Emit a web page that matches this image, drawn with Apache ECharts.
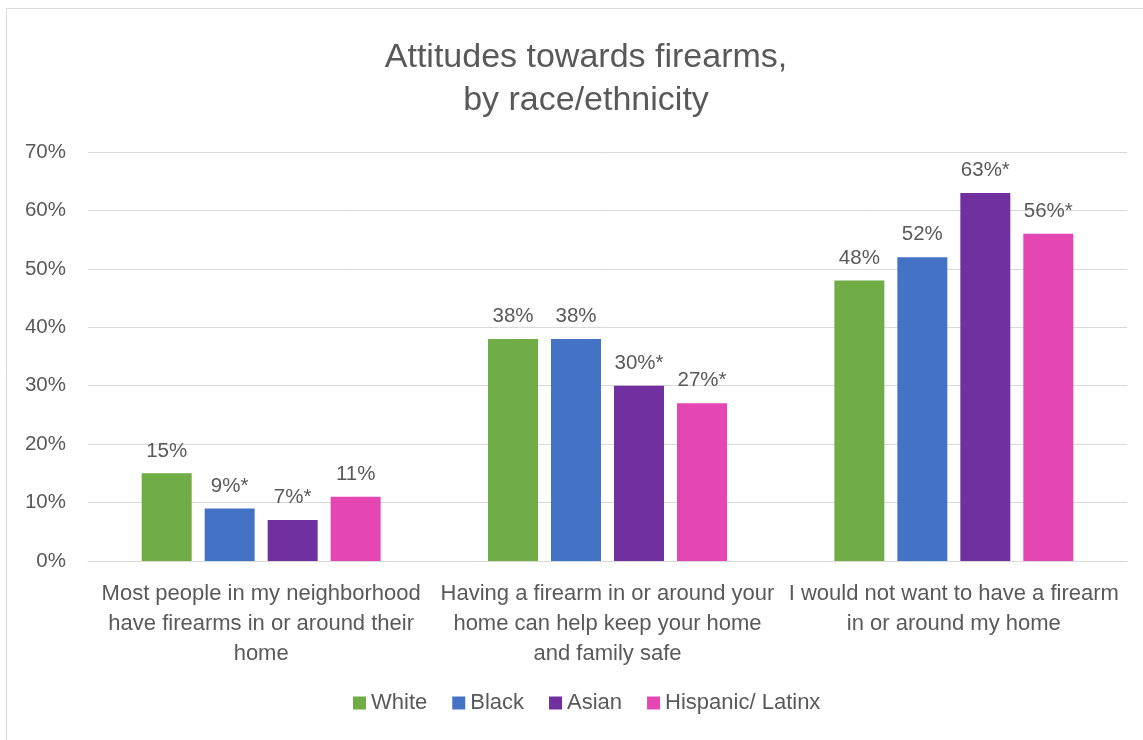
<!DOCTYPE html>
<html>
<head>
<meta charset="utf-8">
<script src="https://cdn.jsdelivr.net/npm/echarts@6/dist/echarts.min.js"></script>
<style>
html,body{margin:0;padding:0;background:#fff;}
#chart{width:1143px;height:740px;}
</style>
</head>
<body>
<div id="chart"></div>
<script>
const categories = [
  "Most people in my neighborhood\nhave firearms in or around their\nhome",
  "Having a firearm in or around your\nhome can help keep your home\nand family safe",
  "I would not want to have a firearm\nin or around my home"
];
const seriesNames = ["White", "Black", "Asian", "Hispanic/ Latinx"];
const white = [15, 38, 48];
const black = [9, 38, 52];
const asian = [7, 30, 63];
const hispanic = [11, 27, 56];
const whiteMarks = ["", "", ""];
const blackMarks = ["*", "", ""];
const asianMarks = ["*", "*", "*"];
const hispanicMarks = ["", "*", "*"];
const yTicks = { min: 0, max: 70, interval: 10 };

const colors = ["#70AD47", "#4472C4", "#7030A0", "#E446B2"];
const allData = [white, black, asian, hispanic];
const allMarks = [whiteMarks, blackMarks, asianMarks, hispanicMarks];
const FONT = "'Liberation Sans', Arial, sans-serif";
const TXT = "#595959";

const chart = echarts.init(document.getElementById('chart'), null, {renderer: 'canvas'});
chart.setOption({
  backgroundColor: '#fff',
  animation: false,
  textStyle: { fontFamily: FONT },
  graphic: [{
    type: 'rect', shape: { x: 6.5, y: 8.5, width: 1150, height: 760 },
    style: { fill: 'none', stroke: '#d9d9d9', lineWidth: 1 }, silent: true, z: -1
  }],
  title: {
    text: 'Attitudes towards firearms,\nby race/ethnicity',
    left: 581, top: 31, textAlign: 'center',
    textStyle: { fontFamily: FONT, fontSize: 34, fontWeight: 'normal', color: TXT, lineHeight: 43 }
  },
  legend: {
    data: seriesNames, bottom: 21, left: 348,
    icon: 'rect', itemWidth: 13, itemHeight: 13, itemGap: 25,
    textStyle: { fontFamily: FONT, fontSize: 22, color: TXT }
  },
  grid: { left: 88, right: 16, top: 152, bottom: 179, containLabel: false },
  xAxis: {
    type: 'category', data: categories,
    axisLine: { lineStyle: { color: '#d9d9d9' } },
    axisTick: { show: false },
    axisLabel: { fontFamily: FONT, fontSize: 22, color: TXT, lineHeight: 30, margin: 18, interval: 0 }
  },
  yAxis: {
    type: 'value', min: yTicks.min, max: yTicks.max, interval: yTicks.interval,
    axisLabel: { formatter: '{value}%', fontFamily: FONT, fontSize: 20.5, color: TXT, margin: 22 },
    splitLine: { lineStyle: { color: '#d9d9d9', width: 1 } },
    axisLine: { show: false }, axisTick: { show: false }
  },
  series: seriesNames.map((name, i) => ({
    name: name, type: 'bar', data: allData[i],
    itemStyle: { color: colors[i] },
    barGap: '26%', barCategoryGap: '31%',
    label: {
      show: true, position: 'top', distance: 12,
      fontFamily: FONT, fontSize: 20.5, color: TXT,
      formatter: p => p.value + '%' + allMarks[i][p.dataIndex]
    }
  }))
});
</script>
</body>
</html>
